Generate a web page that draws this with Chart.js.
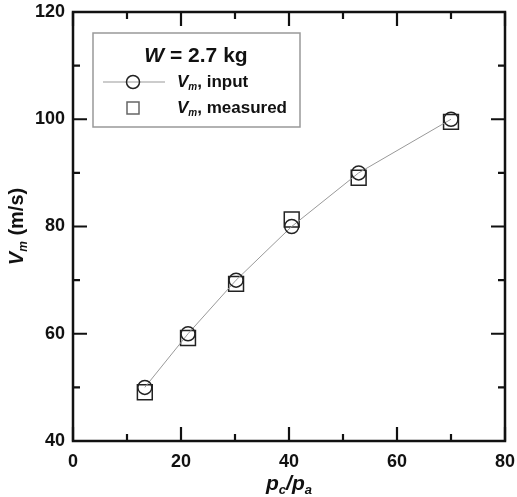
<!DOCTYPE html>
<html>
<head>
<meta charset="utf-8">
<script src="https://cdn.jsdelivr.net/npm/chart.js@4.4.1/dist/chart.umd.min.js"></script>
<style>
  body { margin: 0; background: #fff; }
  canvas { display: block; }
</style>
</head>
<body>
<canvas id="chart" width="517" height="497"></canvas>
<script>
// Data
const pressureRatio = [13.3, 21.3, 30.2, 40.5, 52.9, 70.0];
const vmInput = [50, 60, 70, 80, 90, 100];
const vmMeasured = [49.1, 59.2, 69.3, 81.3, 89.1, 99.5];
const xTicks = [0, 20, 40, 60, 80];
const yTicks = [40, 60, 80, 100, 120];

const FONT = "'Liberation Sans', Arial, sans-serif";

// draw a run of text pieces (for italic + subscripts)
function drawParts(ctx, parts, x, y, align) {
    let total = 0;
    parts.forEach(p => {
        ctx.font = p.font;
        total += ctx.measureText(p.t).width;
    });
    let cx = align === 'center' ? x - total / 2 : x;
    ctx.textAlign = 'left';
    ctx.textBaseline = 'alphabetic';
    parts.forEach(p => {
        ctx.font = p.font;
        ctx.fillText(p.t, cx, y + (p.dy || 0));
        cx += ctx.measureText(p.t).width;
    });
}

// Frame, inward ticks on all sides, legend box and axis titles
const framePlugin = {
    id: 'frame',
    afterDraw(chart) {
        const ctx = chart.ctx;
        const { left, right, top, bottom } = chart.chartArea;
        const x = chart.scales.x;
        const y = chart.scales.y;

        ctx.save();
        ctx.strokeStyle = '#111';
        ctx.lineWidth = 2.5;
        ctx.strokeRect(left, top, right - left, bottom - top);

        ctx.lineWidth = 2.2;
        ctx.beginPath();
        for (let v = 0; v <= 80; v += 10) {
            const px = x.getPixelForValue(v);
            const len = v % 20 === 0 ? 14 : 7;
            ctx.moveTo(px, bottom); ctx.lineTo(px, bottom - len);
            ctx.moveTo(px, top); ctx.lineTo(px, top + len);
        }
        for (let v = 40; v <= 120; v += 10) {
            const py = y.getPixelForValue(v);
            const len = v % 20 === 0 ? 14 : 7;
            ctx.moveTo(left, py); ctx.lineTo(left + len, py);
            ctx.moveTo(right, py); ctx.lineTo(right - len, py);
        }
        ctx.stroke();

        // legend box
        ctx.strokeStyle = '#999';
        ctx.lineWidth = 1.5;
        ctx.strokeRect(93, 33, 207, 94);

        ctx.fillStyle = '#111';
        drawParts(ctx, [
            { t: 'W', font: `italic bold 21px ${FONT}` },
            { t: ' = 2.7 kg', font: `bold 21px ${FONT}` }
        ], 196, 62, 'center');

        // line + circle sample
        ctx.strokeStyle = '#999';
        ctx.lineWidth = 1;
        ctx.beginPath();
        ctx.moveTo(103, 82); ctx.lineTo(165, 82);
        ctx.stroke();
        ctx.strokeStyle = '#222';
        ctx.lineWidth = 1.5;
        ctx.beginPath();
        ctx.arc(133, 82, 6.5, 0, Math.PI * 2);
        ctx.stroke();
        drawParts(ctx, [
            { t: 'V', font: `italic bold 17px ${FONT}` },
            { t: 'm', font: `italic bold 10px ${FONT}`, dy: 3 },
            { t: ', input', font: `bold 17px ${FONT}` }
        ], 177, 87);

        // square sample
        ctx.strokeStyle = '#666';
        ctx.strokeRect(127, 102, 12, 12);
        drawParts(ctx, [
            { t: 'V', font: `italic bold 17px ${FONT}` },
            { t: 'm', font: `italic bold 10px ${FONT}`, dy: 3 },
            { t: ', measured', font: `bold 17px ${FONT}` }
        ], 177, 113);

        // x title
        drawParts(ctx, [
            { t: 'p', font: `italic bold 21px ${FONT}` },
            { t: 'c', font: `italic bold 13px ${FONT}`, dy: 4 },
            { t: '/', font: `italic bold 21px ${FONT}` },
            { t: 'p', font: `italic bold 21px ${FONT}` },
            { t: 'a', font: `italic bold 13px ${FONT}`, dy: 4 }
        ], (left + right) / 2, 490, 'center');

        // y title
        ctx.translate(23, (top + bottom) / 2);
        ctx.rotate(-Math.PI / 2);
        drawParts(ctx, [
            { t: 'V', font: `italic bold 20px ${FONT}` },
            { t: 'm', font: `italic bold 12px ${FONT}`, dy: 4 },
            { t: ' (m/s)', font: `bold 20px ${FONT}` }
        ], 0, 0, 'center');
        ctx.restore();
    }
};

const tickFont = { family: FONT, size: 18, weight: 'bold' };

new Chart(document.getElementById('chart'), {
    type: 'scatter',
    data: {
        datasets: [{
            label: 'Vm, input',
            data: pressureRatio.map((p, i) => ({ x: p, y: vmInput[i] })),
            showLine: true,
            borderColor: '#999',
            borderWidth: 1,
            pointStyle: 'circle',
            pointRadius: 7,
            pointBorderColor: '#222',
            pointBorderWidth: 1.5,
            pointBackgroundColor: 'rgba(0,0,0,0)'
        }, {
            label: 'Vm, measured',
            data: pressureRatio.map((p, i) => ({ x: p, y: vmMeasured[i] })),
            showLine: false,
            pointStyle: 'rect',
            pointRadius: 10.5,
            pointBorderColor: '#222',
            pointBorderWidth: 1.5,
            pointBackgroundColor: 'rgba(0,0,0,0)'
        }]
    },
    options: {
        responsive: false,
        animation: false,
        layout: { padding: { top: 10, right: 12, left: 0, bottom: 0 } },
        plugins: { legend: { display: false }, tooltip: { enabled: false } },
        scales: {
            x: {
                type: 'linear',
                min: 0, max: 80,
                grid: { display: false, drawTicks: false },
                border: { display: false },
                afterBuildTicks: s => { s.ticks = xTicks.map(v => ({ value: v })); },
                afterFit: s => { s.height = 56; s.paddingLeft = 0; s.paddingRight = 0; },
                ticks: { font: tickFont, color: '#111', padding: 10, maxRotation: 0 }
            },
            y: {
                type: 'linear',
                min: 40, max: 120,
                grid: { display: false, drawTicks: false },
                border: { display: false },
                afterBuildTicks: s => { s.ticks = yTicks.map(v => ({ value: v })); },
                afterFit: s => { s.width = 73; s.paddingTop = 0; s.paddingBottom = 0; },
                ticks: { font: tickFont, color: '#111', padding: 8 }
            }
        }
    },
    plugins: [framePlugin]
});
</script>
</body>
</html>
